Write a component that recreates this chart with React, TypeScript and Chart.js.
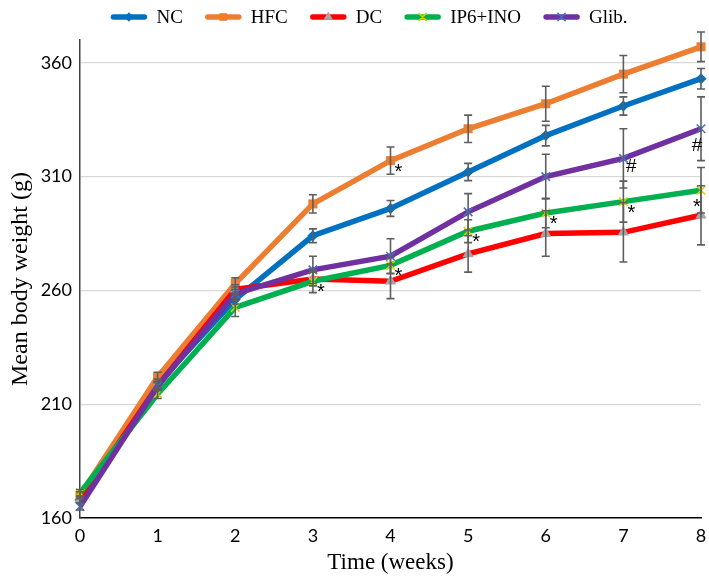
import React, { useEffect, useRef } from 'react';
import { Chart, registerables } from 'chart.js';

Chart.register(...registerables);

const weeks = ['0', '1', '2', '3', '4', '5', '6', '7', '8'];
const seriesNames = ['NC', 'HFC', 'DC', 'IP6+INO', 'Glib.'];

const ncValues = [168, 219, 256, 284, 296, 312, 328, 341, 353];
const hfcValues = [170, 222, 263, 298, 317, 331, 342, 355, 367];
const dcValues = [168, 218, 260.5, 265, 264, 276, 285, 285.5, 293];
const ip6Values = [171, 214.5, 252.5, 264, 271, 286, 294, 299, 304];
const glibValues = [165, 218, 258.5, 269, 275, 294.5, 310, 318, 331];

const ncErrors = [1.5, 2, 2, 3, 3.5, 3.8, 4.5, 4, 4.5];
const hfcErrors = [1.5, 2, 2.5, 4, 6, 6, 7.7, 8.2, 6.5];
const dcErrors = [1.5, 2, 2, 3, 7.6, 8, 10, 13, 13];
const ip6Errors = [1.5, 2, 4, 5, 3.5, 5, 6.5, 9, 10];
const glibErrors = [1.5, 2, 3, 6, 7.7, 8, 9.8, 13, 14];

const yTicks = [160, 210, 260, 310, 360];

// [series, week index, symbol]
const significance: [string, number, string][] = [
  ['HFC', 4, '*'],
  ['IP6+INO', 3, '*'],
  ['IP6+INO', 4, '*'],
  ['IP6+INO', 5, '*'],
  ['IP6+INO', 6, '*'],
  ['IP6+INO', 7, '*'],
  ['IP6+INO', 8, '*'],
  ['Glib.', 7, '#'],
  ['Glib.', 8, '#'],
];

const allValues = [ncValues, hfcValues, dcValues, ip6Values, glibValues];
const allErrors = [ncErrors, hfcErrors, dcErrors, ip6Errors, glibErrors];
const lineColors = ['#0070C0', '#ED7D31', '#FF0000', '#00B050', '#7030A0'];
const markerColors = ['#0070C0', '#ED7D31', '#A5A5A5', '#D6D200', '#4472C4'];
const markerStyles = ['rectRot', 'rect', 'triangle', 'crossRot', 'crossRot'];
const markerRadii = [5.5, 6.4, 6.5, 6, 6];
const drawOrder = [5, 4, 3, 2, 1];

function drawMarker(ctx: CanvasRenderingContext2D, style: string, x: number, y: number, r: number, color: string) {
  ctx.save();
  ctx.fillStyle = color;
  ctx.strokeStyle = color;
  ctx.lineWidth = 1.5;
  ctx.beginPath();
  if (style === 'rectRot') {
    ctx.moveTo(x, y - r);
    ctx.lineTo(x + r, y);
    ctx.lineTo(x, y + r);
    ctx.lineTo(x - r, y);
    ctx.closePath();
    ctx.fill();
  } else if (style === 'rect') {
    const s = Math.SQRT1_2 * r;
    ctx.rect(x - s, y - s, 2 * s, 2 * s);
    ctx.fill();
  } else if (style === 'triangle') {
    ctx.moveTo(x, y - r);
    ctx.lineTo(x + r * 0.866, y + r * 0.5);
    ctx.lineTo(x - r * 0.866, y + r * 0.5);
    ctx.closePath();
    ctx.fill();
  } else {
    const d = Math.SQRT1_2 * r;
    ctx.moveTo(x - d, y - d);
    ctx.lineTo(x + d, y + d);
    ctx.moveTo(x + d, y - d);
    ctx.lineTo(x - d, y + d);
    ctx.stroke();
  }
  ctx.restore();
}

const errorBarPlugin = {
  id: 'errorBars',
  afterDatasetsDraw(chart: any) {
    const ctx = chart.ctx as CanvasRenderingContext2D;
    const yScale = chart.scales.y;
    ctx.save();
    ctx.strokeStyle = '#5E5E5E';
    ctx.lineWidth = 1.6;
    chart.data.datasets.forEach((ds: any, i: number) => {
      const meta = chart.getDatasetMeta(i);
      ds.data.forEach((v: number, j: number) => {
        const e = ds.errors[j];
        const x = meta.data[j].x;
        const yTop = yScale.getPixelForValue(v + e);
        const yBot = yScale.getPixelForValue(v - e);
        ctx.beginPath();
        ctx.moveTo(x, yTop);
        ctx.lineTo(x, yBot);
        ctx.moveTo(x - 4, yTop);
        ctx.lineTo(x + 4, yTop);
        ctx.moveTo(x - 4, yBot);
        ctx.lineTo(x + 4, yBot);
        ctx.stroke();
      });
    });
    ctx.restore();
  },
};

const significancePlugin = {
  id: 'significance',
  afterDraw(chart: any) {
    const ctx = chart.ctx as CanvasRenderingContext2D;
    ctx.save();
    ctx.fillStyle = '#000';
    ctx.textAlign = 'center';
    ctx.textBaseline = 'alphabetic';
    const last = weeks.length - 1;
    significance.forEach(([name, wk, sym]) => {
      const idx = seriesNames.indexOf(name);
      const pt = chart.getDatasetMeta(idx).data[wk];
      ctx.font = sym === '*' ? '20px "Liberation Sans"' : '19px "Liberation Sans"';
      const m = ctx.measureText(sym);
      const cx = wk === last ? pt.x - 4 : pt.x + 8;
      const cy = wk === last ? pt.y + (sym === '#' ? 16 : 13) : pt.y + 7;
      const y = cy + (m.actualBoundingBoxAscent - m.actualBoundingBoxDescent) / 2;
      ctx.fillText(sym, cx, y);
    });
    ctx.restore();
  },
};

const legendPlugin = {
  id: 'lineLegend',
  afterDraw(chart: any) {
    const ctx = chart.ctx as CanvasRenderingContext2D;
    ctx.save();
    ctx.font = '19px "Liberation Serif"';
    ctx.textBaseline = 'middle';
    ctx.textAlign = 'left';
    const lineLen = 35;
    const textGap = 10;
    const itemGap = 23;
    const widths = seriesNames.map((n) => ctx.measureText(n).width);
    const total = widths.reduce((a, b) => a + b, 0) + seriesNames.length * (lineLen + textGap) + (seriesNames.length - 1) * itemGap;
    let x = chart.width / 2 - total / 2 + 15;
    const y = 17;
    seriesNames.forEach((n, i) => {
      ctx.strokeStyle = lineColors[i];
      ctx.lineWidth = 5.5;
      ctx.lineCap = 'round';
      ctx.beginPath();
      ctx.moveTo(x + 2, y);
      ctx.lineTo(x + lineLen - 2, y);
      ctx.stroke();
      drawMarker(ctx, markerStyles[i], x + lineLen / 2, y, markerRadii[i] * 0.85, markerColors[i]);
      ctx.fillStyle = '#000';
      ctx.fillText(n, x + lineLen + textGap, y + 1);
      x += lineLen + textGap + widths[i] + itemGap;
    });
    ctx.restore();
  },
};

export default function App() {
  const canvasRef = useRef<HTMLCanvasElement | null>(null);

  useEffect(() => {
    if (!canvasRef.current) return;
    const datasets = seriesNames.map((name, i) => ({
      label: name,
      data: allValues[i],
      errors: allErrors[i],
      borderColor: lineColors[i],
      backgroundColor: lineColors[i],
      borderWidth: 5.5,
      tension: 0,
      order: drawOrder[i],
      clip: false,
      pointStyle: markerStyles[i],
      pointRadius: markerRadii[i],
      pointBackgroundColor: markerColors[i],
      pointBorderColor: markerColors[i],
      pointBorderWidth: markerStyles[i] === 'crossRot' ? 1.6 : 0,
    }));

    const chart = new Chart(canvasRef.current, {
      type: 'line',
      data: { labels: weeks, datasets: datasets as any },
      options: {
        responsive: true,
        maintainAspectRatio: false,
        animation: false,
        layout: { padding: { top: 40, right: 8, left: 0, bottom: 0 } },
        plugins: {
          legend: { display: false },
          tooltip: { enabled: false },
        },
        scales: {
          x: {
            type: 'category',
            offset: false,
            grid: { display: false, drawTicks: false },
            border: { display: true, color: '#000', width: 1.5 },
            ticks: {
              padding: 7,
              color: '#000',
              font: { family: 'Lato', size: 18 },
              maxRotation: 0,
            },
            title: {
              display: true,
              text: 'Time (weeks)',
              color: '#000',
              font: { family: '"Liberation Serif"', size: 23 },
              padding: { top: 0, bottom: 3 },
            },
            afterFit: (s: any) => {
              s.height = 62;
              s.paddingLeft = 0;
              s.paddingRight = 0;
            },
          },
          y: {
            min: 160,
            max: 370,
            grid: {
              drawTicks: false,
              color: (c: any) => (c.tick && c.tick.value === 160 ? 'rgba(0,0,0,0)' : '#D9D9D9'),
              lineWidth: 1.3,
            },
            border: { display: true, color: '#404040', width: 1.5 },
            ticks: {
              padding: 8,
              color: '#000',
              font: { family: 'Lato', size: 18 },
            },
            afterBuildTicks: (s: any) => {
              s.ticks = yTicks.map((v) => ({ value: v }));
            },
            title: {
              display: true,
              text: 'Mean body weight (g)',
              color: '#000',
              font: { family: '"Liberation Serif"', size: 24 },
              padding: { top: 6, bottom: 0 },
            },
            afterFit: (s: any) => {
              s.width = 80;
              s.paddingTop = 0;
              s.paddingBottom = 0;
            },
          },
        },
      },
      plugins: [errorBarPlugin, significancePlugin, legendPlugin],
    });
    return () => chart.destroy();
  }, []);

  return (
    <div style={{ position: 'absolute', left: 0, top: 0, width: 709, height: 580, background: '#fff' }}>
      <canvas ref={canvasRef} />
    </div>
  );
}
